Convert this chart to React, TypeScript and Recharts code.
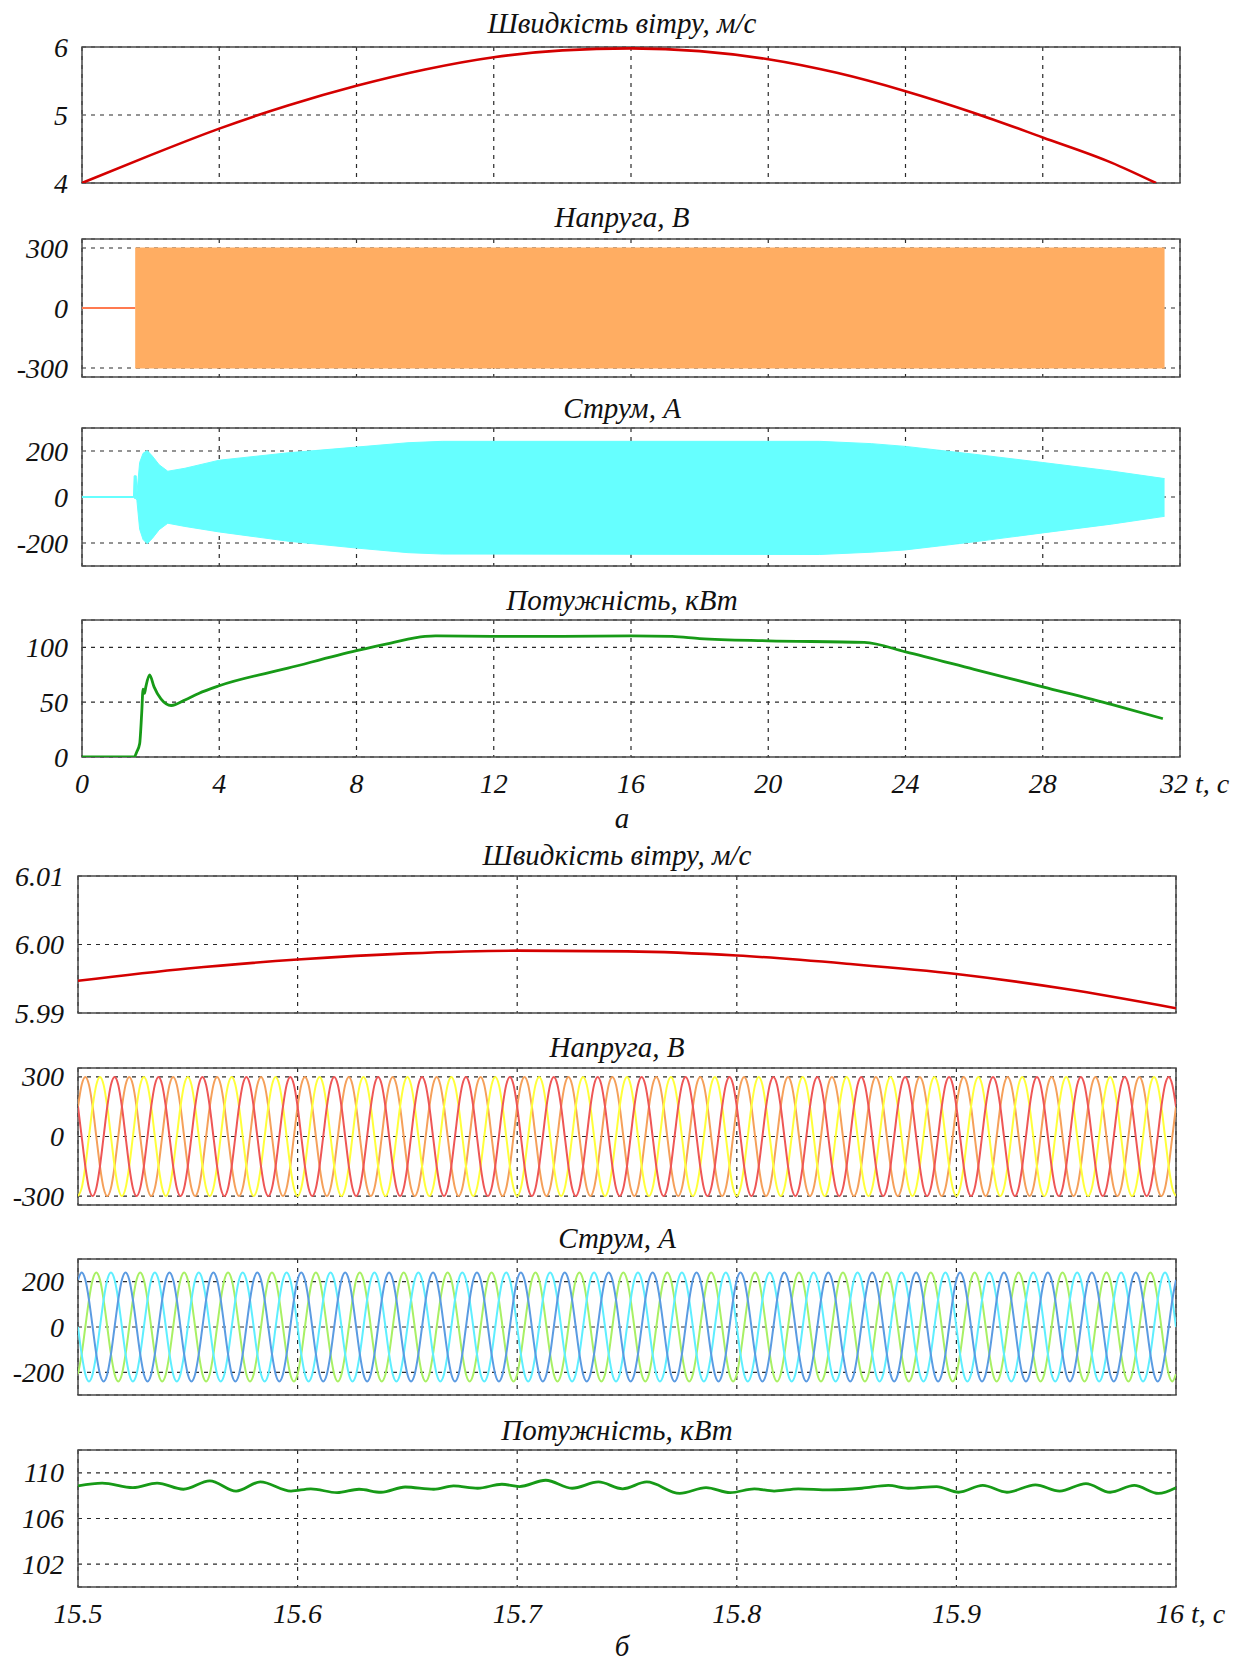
import React from "react";
import {
	ComposedChart,
	Line,
	Area,
	XAxis,
	YAxis,
	CartesianGrid,
	ReferenceArea,
} from "recharts";

const W = 1236;
const FONT = "'Liberation Serif', 'Times New Roman', serif";
const GRID = "#2a2a2a";
const FRAME = "#4a4a4a";

// ---------- (а) full run, 0..32 s ----------
const fullTicks = [0, 4, 8, 12, 16, 20, 24, 28, 32];

const windTime = [0, 2, 4, 6, 8, 10, 12, 14, 16, 18, 20, 22, 24, 26, 28, 30, 31.3];
const windSpeed = [4.0, 4.41, 4.8, 5.14, 5.43, 5.67, 5.85, 5.95, 5.98, 5.94, 5.82, 5.62, 5.35, 5.03, 4.67, 4.3, 4.0];

const voltTime = [0, 1.55, 31.55];
const voltIdle = [0, 0, null];
const voltTop = [null, 300, 300];
const voltBottom = [null, -300, -300];

const curTime = [0, 1.5, 1.52, 1.58, 1.6, 1.68, 1.78, 1.9, 2.05, 2.25, 2.5, 3.0, 4, 6, 8, 9.5, 10.5, 21.5, 23, 24, 26, 28, 30, 31.55];
const curIdle = [0, 0, null, null, null, null, null, null, null, null, null, null, null, null, null, null, null, null, null, null, null, null, null, null];
const curTop = [null, 0, 92, 92, 15, 150, 190, 202, 178, 140, 112, 125, 160, 192, 217, 236, 242, 242, 232, 220, 186, 150, 113, 80];
const curBottom = [null, 0, -5, -8, -15, -140, -185, -203, -180, -142, -114, -128, -152, -192, -222, -242, -248, -250, -240, -230, -195, -156, -118, -84];

const powTime = [0, 1.52, 1.6, 1.68, 1.74, 1.78, 1.82, 1.86, 1.97, 2.1, 2.3, 2.6, 3.0, 3.4, 4, 6, 8, 9, 10, 10.3, 12, 14, 16, 17.2, 18, 20, 22.8, 24, 26, 28, 30, 31.5];
const powValue = [0, 0, 5, 12, 40, 62, 58, 64, 75, 64, 53, 47, 52, 58, 65, 81, 97, 104, 110, 110.5, 110, 110, 110.5, 110, 108, 106, 104.5, 96, 80, 64, 48, 35];

// ---------- (б) zoom, 15.5..16 s ----------
const zoomTicks = [15.5, 15.6, 15.7, 15.8, 15.9, 16];

const bWindTime = [15.5, 15.55, 15.6, 15.65, 15.7, 15.75, 15.8, 15.85, 15.9, 15.95, 16.0];
const bWindSpeed = [5.9947, 5.9965, 5.9978, 5.9987, 5.9991, 5.999, 5.9984, 5.9972, 5.9957, 5.9935, 5.9907];

// one 20 ms period, 12 samples (30 deg apart)
const voltCycle = [300, 260, 150, 0, -150, -260, -300, -260, -150, 0, 150, 260];
const curCycle = [240, 208, 120, 0, -120, -208, -240, -208, -120, 0, 120, 208];
// sample index of the first crest after 15.5 s for each phase
const voltPeaks = { orange: 2, yellow: 6, red: 10 };
const curPeaks = { blue: 1, green: 5, cyan: 9 };
const waveStart = 15.5;
const waveStep = 0.02 / 12;
const waveSamples = 301;

const bPowTime = [15.5, 15.511, 15.525, 15.536, 15.548, 15.56, 15.572, 15.583, 15.597, 15.606, 15.618, 15.628, 15.638, 15.649, 15.662, 15.671, 15.682, 15.693, 15.701, 15.713, 15.725, 15.737, 15.748, 15.759, 15.774, 15.786, 15.797, 15.808, 15.817, 15.828, 15.842, 15.857, 15.869, 15.878, 15.891, 15.901, 15.912, 15.923, 15.936, 15.947, 15.959, 15.97, 15.981, 15.992, 16.0];
const bPowValue = [108.85, 109.1, 108.7, 109.1, 108.56, 109.3, 108.4, 109.2, 108.4, 108.6, 108.26, 108.56, 108.3, 108.76, 108.56, 108.85, 108.65, 109.0, 108.8, 109.35, 108.65, 109.2, 108.6, 109.2, 108.2, 108.7, 108.26, 108.6, 108.4, 108.6, 108.5, 108.65, 108.9, 108.65, 108.8, 108.3, 108.9, 108.3, 108.95, 108.4, 109.06, 108.3, 108.9, 108.2, 108.7];

const titles = [
	{ text: "Швидкість вітру, м/с", x: 622, y: 23 },
	{ text: "Напруга, В", x: 622, y: 217 },
	{ text: "Струм, А", x: 622, y: 408 },
	{ text: "Потужність, кВт", x: 622, y: 600 },
	{ text: "Швидкість вітру, м/с", x: 617, y: 855 },
	{ text: "Напруга, В", x: 617, y: 1047 },
	{ text: "Струм, А", x: 617, y: 1238 },
	{ text: "Потужність, кВт", x: 617, y: 1430 },
];

// ---------- tables ----------
const windRows = windTime.map((t, i) => ({ t, v: windSpeed[i] }));
const voltRows = voltTime.map((t, i) => ({
	t,
	idle: voltIdle[i],
	band: voltTop[i] === null ? null : [voltBottom[i], voltTop[i]],
}));
const curRows = curTime.map((t, i) => ({
	t,
	idle: curIdle[i],
	band: curTop[i] === null ? null : [curBottom[i], curTop[i]],
}));
const powRows = powTime.map((t, i) => ({ t, v: powValue[i] }));
const bWindRows = bWindTime.map((t, i) => ({ t, v: bWindSpeed[i] }));
const pick = (cycle: number[], peak: number, i: number) =>
	cycle[(((i - peak) % 12) + 12) % 12];
const waveRows = Array.from({ length: waveSamples }, (_, i) => ({
	t: +(waveStart + i * waveStep).toFixed(6),
	red: pick(voltCycle, voltPeaks.red, i),
	orange: pick(voltCycle, voltPeaks.orange, i),
	yellow: pick(voltCycle, voltPeaks.yellow, i),
	blue: pick(curCycle, curPeaks.blue, i),
	green: pick(curCycle, curPeaks.green, i),
	cyan: pick(curCycle, curPeaks.cyan, i),
}));
const bPowRows = bPowTime.map((t, i) => ({ t, v: bPowValue[i] }));

const tickStyle = {
	fontFamily: FONT,
	fontStyle: "italic",
	fontSize: 28,
	fill: "#111",
};

function makeXTick(last: number) {
	return (props: any) => {
		const { x, y, payload } = props;
		const v = payload.value;
		if (v === last) {
			return (
				<text x={x - 20} y={y} dy="0.71em" textAnchor="start" style={tickStyle}>
					{`${v} t, c`}
				</text>
			);
		}
		return (
			<text x={x} y={y} dy="0.71em" textAnchor="middle" style={tickStyle}>
				{String(v)}
			</text>
		);
	};
}

const noTick = () => <g />;

function YTick(props: any) {
	const { x, y, payload, fmt } = props;
	const v = payload.value;
	return (
		<text
			x={x}
			y={y}
			dy="0.34em"
			textAnchor="end"
			fontFamily={FONT}
			fontStyle="italic"
			fontSize={28}
			fill="#111"
			style={tickStyle}
		>
			{fmt ? fmt(v) : String(v)}
		</text>
	);
}

type PanelProps = {
	data: any[];
	plotTop: number;
	plotH: number;
	left: number;
	right: number;
	xDomain: [number, number];
	xTicks: number[];
	yDomain: [number, number];
	yTicks: number[];
	yFmt?: (v: number) => string;
	bottomAxis?: boolean;
	children: React.ReactNode;
};

function Panel({
	data,
	plotTop,
	plotH,
	left,
	right,
	xDomain,
	xTicks,
	yDomain,
	yTicks,
	yFmt,
	bottomAxis,
	children,
}: PanelProps) {
	const PAD = 20;
	const axisH = bottomAxis ? 50 : 1;
	const height = PAD + plotH + axisH + (bottomAxis ? 0 : PAD);
	return (
		<div style={{ position: "absolute", left: 0, top: plotTop - PAD }}>
			<ComposedChart
				width={W}
				height={height}
				data={data}
				margin={{ top: PAD, right: W - right, bottom: bottomAxis ? 0 : PAD, left: 0 }}
			>
				<CartesianGrid stroke={GRID} strokeDasharray="4 5" strokeWidth={1.2} />
				<XAxis
					dataKey="t"
					type="number"
					domain={xDomain}
					ticks={xTicks}
					allowDataOverflow
					interval={0}
					height={axisH}
					tickSize={0}
					tickMargin={16}
					axisLine={false}
					tickLine={false}
					tick={bottomAxis ? makeXTick(xTicks[xTicks.length - 1]) : noTick}
				/>
				<YAxis
					type="number"
					domain={yDomain}
					ticks={yTicks}
					allowDataOverflow
					interval={0}
					width={left}
					tickSize={0}
					tickMargin={14}
					axisLine={false}
					tickLine={false}
					tick={(p: any) => <YTick {...p} fmt={yFmt} />}
				/>
				{children}
				<ReferenceArea
					x1={xDomain[0]}
					x2={xDomain[1]}
					y1={yDomain[0]}
					y2={yDomain[1]}
					fill="none"
					stroke={FRAME}
					strokeWidth={1.5}
					ifOverflow="visible"
				/>
			</ComposedChart>
		</div>
	);
}

export default function App() {
	const aL = 82;
	const aR = 1180;
	const bL = 78;
	const bR = 1176;
	return (
		<div
			style={{
				position: "absolute",
				left: 0,
				top: 0,
				width: W,
				height: 1662,
				background: "#fff",
				overflow: "hidden",
			}}
		>
			{titles.map((tt, i) => (
				<div
					key={i}
					style={{
						position: "absolute",
						left: tt.x - 300,
						width: 600,
						top: tt.y - 16,
						lineHeight: "32px",
						textAlign: "center",
						fontFamily: FONT,
						fontStyle: "italic",
						fontSize: 29,
						color: "#111",
					}}
				>
					{tt.text}
				</div>
			))}

			<Panel data={windRows} plotTop={47} plotH={136} left={aL} right={aR} xDomain={[0, 32]} xTicks={fullTicks} yDomain={[4, 6]} yTicks={[4, 5, 6]}>
				<Line dataKey="v" type="monotone" stroke="#d40000" strokeWidth={2.6} dot={false} isAnimationActive={false} />
			</Panel>

			<Panel data={voltRows} plotTop={239} plotH={138} left={aL} right={aR} xDomain={[0, 32]} xTicks={fullTicks} yDomain={[-345, 345]} yTicks={[-300, 0, 300]}>
				<Area dataKey="band" type="linear" fill="#ffad62" fillOpacity={1} stroke="#ffad62" strokeWidth={1} isAnimationActive={false} />
				<Line dataKey="idle" type="linear" stroke="#ff7a50" strokeWidth={2.2} dot={false} isAnimationActive={false} />
			</Panel>

			<Panel data={curRows} plotTop={428} plotH={138} left={aL} right={aR} xDomain={[0, 32]} xTicks={fullTicks} yDomain={[-300, 300]} yTicks={[-200, 0, 200]}>
				<Area dataKey="band" type="linear" fill="#66ffff" fillOpacity={1} stroke="#66ffff" strokeWidth={1} isAnimationActive={false} />
				<Line dataKey="idle" type="linear" stroke="#66ffff" strokeWidth={2.2} dot={false} isAnimationActive={false} />
			</Panel>

			<Panel data={powRows} plotTop={620} plotH={137} left={aL} right={aR} xDomain={[0, 32]} xTicks={fullTicks} yDomain={[0, 125]} yTicks={[0, 50, 100]} bottomAxis>
				<Line dataKey="v" type="monotone" stroke="#179a17" strokeWidth={2.8} dot={false} isAnimationActive={false} />
			</Panel>

			<Panel data={bWindRows} plotTop={876} plotH={137} left={bL} right={bR} xDomain={[15.5, 16]} xTicks={zoomTicks} yDomain={[5.99, 6.01]} yTicks={[5.99, 6.0, 6.01]} yFmt={(v) => v.toFixed(2)}>
				<Line dataKey="v" type="monotone" stroke="#d40000" strokeWidth={2.6} dot={false} isAnimationActive={false} />
			</Panel>

			<Panel data={waveRows} plotTop={1068} plotH={137} left={bL} right={bR} xDomain={[15.5, 16]} xTicks={zoomTicks} yDomain={[-345, 345]} yTicks={[-300, 0, 300]}>
				<Line dataKey="orange" type="monotone" stroke="#f5a05a" strokeWidth={2} dot={false} isAnimationActive={false} />
				<Line dataKey="yellow" type="monotone" stroke="#ffff3a" strokeWidth={2} dot={false} isAnimationActive={false} />
				<Line dataKey="red" type="monotone" stroke="#ee5656" strokeWidth={2} dot={false} isAnimationActive={false} />
			</Panel>

			<Panel data={waveRows} plotTop={1259} plotH={136} left={bL} right={bR} xDomain={[15.5, 16]} xTicks={zoomTicks} yDomain={[-300, 300]} yTicks={[-200, 0, 200]}>
				<Line dataKey="green" type="monotone" stroke="#a8f064" strokeWidth={2} dot={false} isAnimationActive={false} />
				<Line dataKey="cyan" type="monotone" stroke="#5eeeff" strokeWidth={2} dot={false} isAnimationActive={false} />
				<Line dataKey="blue" type="monotone" stroke="#5b9be2" strokeWidth={2} dot={false} isAnimationActive={false} />
			</Panel>

			<Panel data={bPowRows} plotTop={1450} plotH={137} left={bL} right={bR} xDomain={[15.5, 16]} xTicks={zoomTicks} yDomain={[100, 112]} yTicks={[102, 106, 110]} bottomAxis>
				<Line dataKey="v" type="monotone" stroke="#179a17" strokeWidth={2.8} dot={false} isAnimationActive={false} />
			</Panel>

			<div style={{ position: "absolute", left: 602, width: 40, top: 802, lineHeight: "32px", textAlign: "center", fontFamily: FONT, fontStyle: "italic", fontSize: 29, color: "#111" }}>
				а
			</div>
			<div style={{ position: "absolute", left: 602, width: 40, top: 1631, lineHeight: "30px", textAlign: "center", fontFamily: FONT, fontStyle: "italic", fontSize: 29, color: "#111" }}>
				б
			</div>
		</div>
	);
}
